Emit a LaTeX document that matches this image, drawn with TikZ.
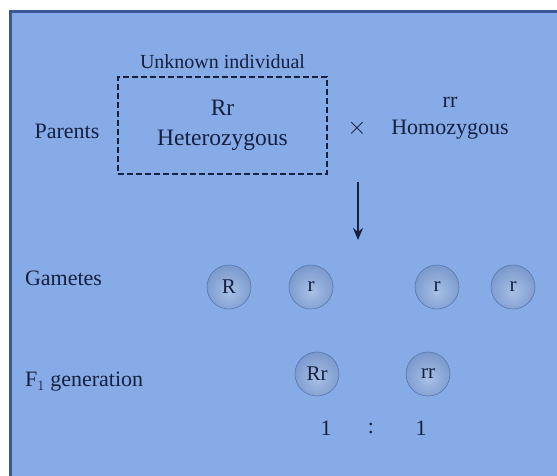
\documentclass[tikz,border=0pt]{standalone}
\usepackage{fontspec}
\setmainfont{Liberation Serif}
\usetikzlibrary{arrows.meta, positioning}
\definecolor{PanelBlue}{RGB}{134,171,230}
\definecolor{EdgeBlue}{RGB}{58,88,150}
\definecolor{InkNavy}{RGB}{22,32,64}
\definecolor{GameteLight}{RGB}{168,192,230}
\definecolor{GameteMid}{RGB}{128,158,208}
\definecolor{GameteDark}{RGB}{90,120,176}
\pgfdeclareradialshading{gameteshade}{\pgfpoint{0bp}{-6bp}}{color(0bp)=(GameteLight); color(24bp)=(GameteMid); color(48bp)=(GameteDark); color(60bp)=(GameteDark)}

\begin{document}
\begin{tikzpicture}[
    x=1pt, y=-1pt,
    every node/.style={text=InkNavy, font=\fontsize{22}{30}\selectfont},
    dashedbox/.style={draw=InkNavy, line width=1.8pt, dash pattern=on 6pt off 3pt, minimum width=209pt, minimum height=97pt, align=center, font=\fontsize{23.5}{30}\selectfont},
    gamete/.style={circle, minimum size=44pt, inner sep=0pt, shading=gameteshade, draw=GameteDark, line width=0.6pt, font=\fontsize{21}{24}\selectfont},
    rowlabel/.style={anchor=west}
]

% Backgrounds
\useasboundingbox (0,0) rectangle (557,475);
\fill[white] (0,0) rectangle (557,475);
\draw[fill=PanelBlue, draw=EdgeBlue, line width=3pt] (10.5,11.5) rectangle (580,500);

% Parents row
\node (parents) at (67,131) {Parents};
\node[dashedbox] (unknown) at (222.5,125.5) {Rr\\Heterozygous};
\node[above=4pt of unknown, font=\fontsize{20}{24}\selectfont] (unknownlabel) {Unknown individual};
\node[font=\fontsize{27}{30}\selectfont] (cross) at (357,128) {$\times$};
\node[align=center, font=\fontsize{22}{27}\selectfont] (homo) at (450,118) {rr\\Homozygous};

% Cross arrow
\coordinate (arrowstart) at (358,182);
\coordinate (arrowend) at (358,240);
\draw[-{Stealth[length=12pt,width=10pt]}, line width=1.8pt, InkNavy] (arrowstart) -- (arrowend);

% Gametes row
\node[rowlabel] (gametes) at (21.5,278) {Gametes};
\foreach \name/\x/\allele in {gR/229/R, gr/311/r, hr/437/r, hrr/513/r}
    \node[gamete] (\name) at (\x,287) {\allele};

% F1 row
\node[rowlabel] (fone) at (21.5,382) {F$_1$ generation};
\node[gamete] (fRr) at (317,374) {Rr};
\node[gamete] (frr) at (428,374) {rr};

% Ratio
\node (ratioleft) at (326,428) {1};
\node (ratiocolon) at (371,428) {:};
\node (ratioright) at (421,428) {1};
\end{tikzpicture}
\end{document}
